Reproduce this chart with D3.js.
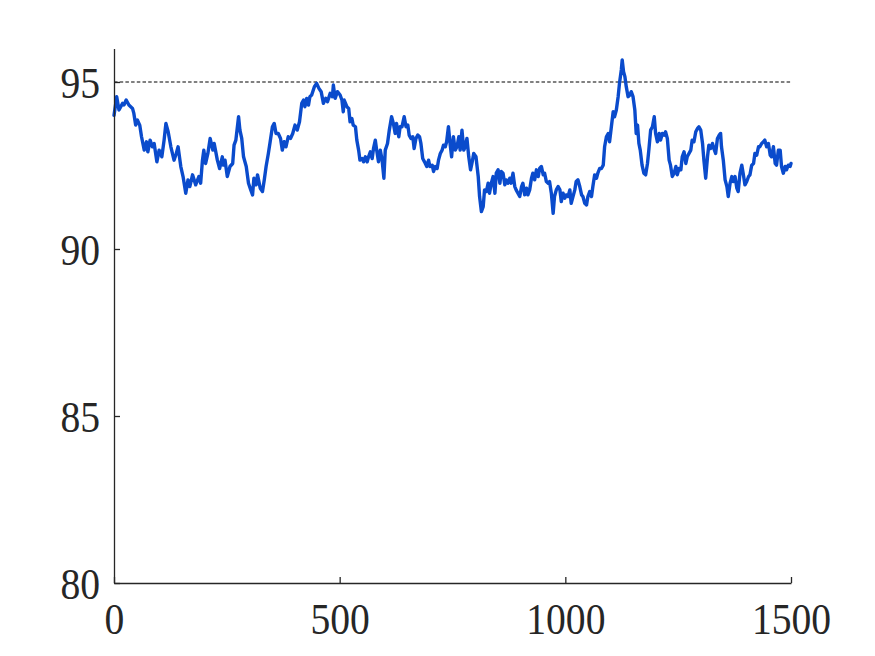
<!DOCTYPE html>
<html>
<head>
<meta charset="utf-8">
<script src="https://cdn.jsdelivr.net/npm/d3@7"></script>
<style>
  html, body { margin: 0; padding: 0; background: #ffffff; }
  svg { display: block; }
</style>
</head>
<body>
<svg id="chart" width="875" height="656"></svg>
<script>
// ---- data ----
const steps = [0,6,11,19,22,27,33,41,44,48,52,57,61,67,72,75,80,85,89,95,100,106,111,115,120,126,133,138,142,148,153,159,164,168,174,181,188,192,196,199,203,208,213,219,222,229,234,240,
  242,246,251,257,263,266,270,276,279,283,287,293,298,303,307,310,315,318,324,329,333,337,342,346,351,355,359,364,369,373,377,381,386,391,396,401,406,411,416,420,423,427,431,434,438,444,449,454,459,464,469,473,479,484,486,490,495,
  501,505,508,510,516,520,523,527,530,535,538,542,545,550,553,557,561,564,568,572,575,579,582,586,590,594,598,601,606,610,615,619,623,626,631,634,638,643,647,651,654,658,662,665,669,673,677,680,684,688,693,697,700,705,708,712,716,719,723,727,730,734,737,741,745,748,752,756,
  760,764,767,771,775,778,782,786,790,793,797,802,807,810,814,818,821,825,829,832,836,840,844,847,851,855,858,862,866,869,873,877,880,884,888,891,895,899,903,906,910,914,917,921,925,928,932,936,940,943,947,951,954,958,962,965,969,973,976,980,984,988,991,995,999,1002,1006,1010,1013,
  1021,1024,1028,1032,1036,1039,1043,1047,1050,1054,1058,1061,1065,1069,1072,1076,1080,1084,1087,1091,1095,1098,1102,1106,1109,1113,1117,1120,1124,1126,1129,1132,1135,1139,1143,1146,1150,1154,1157,1160,1163,1166,1170,1174,1178,1182,1185,1189,1193,1197,1200,1204,1208,1211,1215,1219,1222,1226,1230,1233,1237,1241,1245,1248,1252,1256,1259,1263,1267,1270,
  1278,1281,1285,1289,1293,1296,1300,1304,1307,1311,1315,1318,1322,1326,1329,1333,1337,1341,1344,1346,1350,1354,1358,1361,1365,1369,1372,1376,1380,1383,1387,1391,1394,1398,1402,1406,1409,1413,1417,1420,1424,1428,1431,1435,1439,1442,1446,1450,1454,1457,1461,1465,1468,1472,1476,1479,1483,1487,1490,1494,1498,1500];

const accuracy = [94.00,94.56,94.16,94.36,94.31,94.46,94.31,94.21,94.06,93.71,93.86,93.71,93.36,92.96,93.21,92.91,93.26,93.06,93.16,92.61,92.96,92.76,93.26,93.76,93.51,93.06,92.66,92.86,93.06,92.47,92.17,91.67,92.07,91.87,92.22,91.92,92.17,91.97,92.66,92.96,92.56,92.86,93.31,92.96,93.16,92.66,92.41,92.76,
  92.51,92.66,92.17,92.47,92.56,93.11,93.26,93.96,93.56,93.31,92.76,92.47,91.97,91.77,91.62,92.12,91.92,92.22,91.82,91.72,92.07,92.47,92.86,93.21,93.66,93.76,93.46,93.46,93.31,92.96,93.21,93.06,93.36,93.31,93.46,93.71,93.56,93.81,94.36,94.46,94.26,94.51,94.31,94.56,94.61,94.86,94.96,94.81,94.71,94.36,94.51,94.41,94.66,94.56,94.91,94.51,94.71,
  94.61,94.46,94.11,94.46,94.26,94.21,93.81,93.91,93.71,93.66,93.26,92.96,92.66,92.71,92.61,92.76,92.61,92.76,92.91,92.71,93.01,93.26,92.96,92.61,92.96,92.66,92.12,92.96,93.16,93.56,93.96,93.76,93.46,93.76,93.36,93.66,93.66,93.96,93.66,93.71,93.41,93.31,93.36,93.01,93.31,93.41,93.36,93.16,92.71,92.61,92.47,92.66,92.47,92.51,92.32,92.47,92.41,92.66,92.86,92.96,93.11,93.06,93.21,93.66,93.11,92.76,93.36,92.96,
  93.06,93.36,92.96,93.56,92.96,93.06,93.31,92.76,92.37,92.56,92.86,92.76,92.17,91.57,91.12,91.27,91.77,91.72,91.97,91.67,91.97,92.17,91.67,92.27,92.37,91.97,92.32,92.27,91.92,92.07,91.97,92.12,91.97,92.27,91.87,91.77,91.67,91.57,91.87,91.97,91.62,91.82,91.62,91.77,92.12,92.27,92.07,92.37,92.17,92.41,92.47,92.22,92.27,92.02,91.97,92.02,91.67,91.07,91.57,91.77,91.87,91.77,91.42,91.67,91.52,91.62,91.57,91.77,91.37,
  91.77,92.02,92.07,91.87,91.62,91.57,91.37,91.32,91.57,91.72,91.57,91.87,92.22,92.12,92.27,92.41,92.41,92.51,93.06,93.36,93.46,93.21,93.66,94.11,93.96,94.16,94.56,94.96,95.36,95.66,95.31,95.16,94.86,94.56,94.61,94.71,94.56,94.16,93.46,93.71,93.16,92.96,92.51,92.27,92.22,92.56,92.96,93.56,93.66,93.96,93.46,93.21,93.46,93.26,93.46,93.41,93.51,93.31,92.66,92.51,92.17,92.27,92.47,92.22,92.41,92.37,92.76,92.91,92.56,92.76,
  92.96,93.26,93.21,93.51,93.61,93.66,93.56,93.16,92.66,92.12,92.76,93.11,93.01,93.16,93.01,92.86,93.31,93.41,93.46,93.06,92.66,92.07,91.87,91.57,91.97,92.17,92.02,92.17,91.82,91.72,92.27,92.51,92.27,91.92,92.02,92.17,92.22,92.51,92.56,92.86,92.81,93.06,93.06,93.16,93.21,93.26,93.06,93.16,92.81,92.76,93.06,92.56,92.51,92.96,92.96,92.47,92.27,92.47,92.37,92.51,92.47,92.56];

const threshold = 95;
const xTicks = [0, 500, 1000, 1500];
const yTicks = [80, 85, 90, 95];
const xDomain = [0, 1500];
const yDomain = [80, 96];

// ---- layout ----
const margin = { left: 114, right: 84, top: 48.6, bottom: 73 };
const W = 875, H = 656;
const svg = d3.select("#chart");

const x = d3.scaleLinear().domain(xDomain).range([margin.left, W - margin.right]);
const y = d3.scaleLinear().domain(yDomain).range([H - margin.bottom, margin.top]);

const axisColor = "#262626";
const fontFamily = "'Liberation Serif', 'Times New Roman', serif";
const fmt = d3.format("d");

// threshold dotted line
svg.append("line")
  .attr("x1", x(xDomain[0])).attr("x2", x(xDomain[1]))
  .attr("y1", y(threshold)).attr("y2", y(threshold))
  .attr("stroke", "#808080").attr("stroke-width", 2.2)
  .attr("stroke-dasharray", "3.5,2.2");

// data line
const pts = steps.map((s, i) => [s, accuracy[i]]);
svg.append("path")
  .datum(pts)
  .attr("fill", "none")
  .attr("stroke", "#0a4bcc")
  .attr("stroke-width", 3.4)
  .attr("stroke-linejoin", "round")
  .attr("stroke-linecap", "round")
  .attr("d", d3.line().x(d => x(d[0])).y(d => y(d[1])));

// x axis (ticks pointing inward)
const xAxis = d3.axisBottom(x).tickValues(xTicks).tickFormat(fmt).tickSizeInner(-6).tickSizeOuter(0).tickPadding(38);
const gx = svg.append("g").attr("transform", `translate(0,${y(yDomain[0])})`).call(xAxis);
gx.select(".domain").attr("stroke", axisColor).attr("stroke-width", 1.3);
gx.selectAll(".tick line").attr("stroke", axisColor).attr("stroke-width", 1.3);
gx.selectAll(".tick text")
  .attr("fill", axisColor)
  .attr("font-family", fontFamily)
  .attr("font-size", 45)
  .attr("dy", "0.3em")
  .attr("transform", "scale(0.88,1)")
  .attr("x", 0);

// y axis (ticks pointing inward)
const yAxis = d3.axisLeft(y).tickValues(yTicks).tickFormat(fmt).tickSizeInner(-6).tickSizeOuter(0).tickPadding(14);
const gy = svg.append("g").attr("transform", `translate(${x(xDomain[0])},0)`).call(yAxis);
gy.select(".domain").attr("stroke", axisColor).attr("stroke-width", 1.3);
gy.selectAll(".tick line").attr("stroke", axisColor).attr("stroke-width", 1.3);
gy.selectAll(".tick text")
  .attr("fill", axisColor)
  .attr("font-family", fontFamily)
  .attr("font-size", 45)
  .attr("dy", "0.35em")
  .each(function() {
    const t = d3.select(this);
    const xv = +t.attr("x");
    t.attr("transform", "scale(0.88,1)").attr("x", xv / 0.88);
  });
</script>
</body>
</html>
